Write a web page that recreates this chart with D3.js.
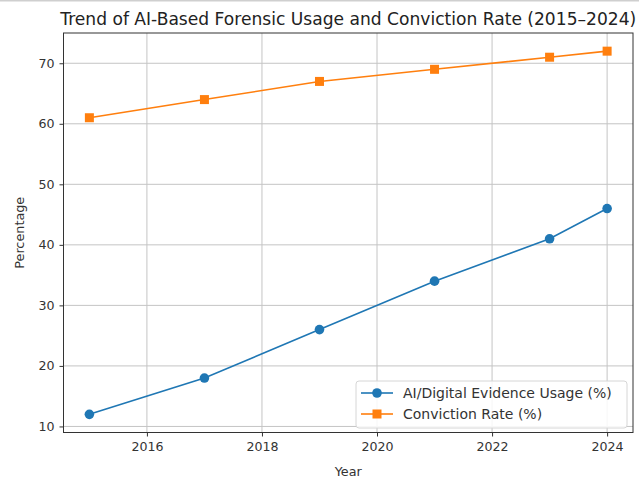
<!DOCTYPE html>
<html>
<head>
<meta charset="utf-8">
<script src="https://cdn.jsdelivr.net/npm/d3@7"></script>
<style>
  html, body { margin: 0; padding: 0; background: #fff; }
  svg { display: block; font-family: "DejaVu Sans", sans-serif; }
</style>
</head>
<body>
<svg id="chart" width="639" height="481"></svg>
<script>
// Survey years and the two tracked percentages
const years = [2015, 2017, 2019, 2021, 2023, 2024];
const aiUsage = [12, 18, 26, 34, 41, 46];
const convictionRate = [61, 64, 67, 69, 71, 72];
const xTicks = [2016, 2018, 2020, 2022, 2024];
const yTicks = [10, 20, 30, 40, 50, 60, 70];
const seriesNames = ["AI/Digital Evidence Usage (%)", "Conviction Rate (%)"];

const W = 639, H = 481;
const margin = { left: 63.5, right: 6, top: 33, bottom: 48.5 };
const svg = d3.select("#chart");

// thin rule along the top edge
svg.append("line").attr("x1", 0).attr("x2", W).attr("y1", 0.8).attr("y2", 0.8)
  .attr("stroke", "#cfcfcf").attr("stroke-width", 1.6);

const x = d3.scaleLinear().domain([2014.55, 2024.45]).range([margin.left, W - margin.right]);
const y = d3.scaleLinear().domain([9, 75]).range([H - margin.bottom, margin.top]);

const g = svg.append("g");

// grid
g.append("g").selectAll("line").data(xTicks).join("line")
  .attr("x1", d => x(d)).attr("x2", d => x(d))
  .attr("y1", margin.top).attr("y2", H - margin.bottom)
  .attr("stroke", "#c4c4c4").attr("stroke-width", 1);
g.append("g").selectAll("line").data(yTicks).join("line")
  .attr("y1", d => y(d)).attr("y2", d => y(d))
  .attr("x1", margin.left).attr("x2", W - margin.right)
  .attr("stroke", "#c4c4c4").attr("stroke-width", 1);

// axes
const xAxis = d3.axisBottom(x).tickValues(xTicks).tickFormat(d3.format("d")).tickSize(4).tickPadding(6);
const yAxis = d3.axisLeft(y).tickValues(yTicks).tickSize(4).tickPadding(5);
const gx = g.append("g").attr("transform", `translate(0,${H - margin.bottom})`).call(xAxis);
const gy = g.append("g").attr("transform", `translate(${margin.left},0)`).call(yAxis);
[gx, gy].forEach(a => {
  a.select(".domain").remove();
  a.selectAll("text").attr("font-size", 12.6).attr("fill", "#333").attr("font-family", "DejaVu Sans");
  a.selectAll("line").attr("stroke", "#333");
});

// frame
g.append("rect").attr("x", margin.left).attr("y", margin.top)
  .attr("width", W - margin.right - margin.left).attr("height", H - margin.bottom - margin.top)
  .attr("fill", "none").attr("stroke", "#333").attr("stroke-width", 1);

const colors = ["#1f77b4", "#ff7f0e"];
const series = [aiUsage, convictionRate];
const line = d3.line().x((d, i) => x(years[i])).y(d => y(d));

series.forEach((vals, si) => {
  g.append("path").datum(vals).attr("d", line)
    .attr("fill", "none").attr("stroke", colors[si]).attr("stroke-width", 1.6);
  if (si === 0) {
    g.append("g").selectAll("circle").data(vals).join("circle")
      .attr("cx", (d, i) => x(years[i])).attr("cy", d => y(d)).attr("r", 4.8)
      .attr("fill", colors[si]);
  } else {
    g.append("g").selectAll("rect").data(vals).join("rect")
      .attr("x", (d, i) => x(years[i]) - 4.5).attr("y", d => y(d) - 4.5)
      .attr("width", 9).attr("height", 9).attr("fill", colors[si]);
  }
});

// title
svg.append("text").attr("x", (margin.left + W - margin.right) / 2).attr("y", 24.5)
  .attr("text-anchor", "middle").attr("font-size", 17.1).attr("fill", "#222")
  .text("Trend of AI-Based Forensic Usage and Conviction Rate (2015\u20132024)");

// axis labels
svg.append("text").attr("x", (margin.left + W - margin.right) / 2).attr("y", 476)
  .attr("text-anchor", "middle").attr("font-size", 12.8).attr("fill", "#333").text("Year");
svg.append("text").attr("transform", `translate(24,${(margin.top + H - margin.bottom) / 2}) rotate(-90)`)
  .attr("text-anchor", "middle").attr("font-size", 12.8).attr("fill", "#333").text("Percentage");

// legend
const lg = svg.append("g").attr("transform", "translate(356,381)");
lg.append("rect").attr("width", 271).attr("height", 47).attr("rx", 3)
  .attr("fill", "#fff").attr("fill-opacity", 0.85).attr("stroke", "#d6d6d6");
seriesNames.forEach((name, i) => {
  const yy = 12 + i * 21;
  lg.append("line").attr("x1", 5).attr("x2", 37).attr("y1", yy).attr("y2", yy)
    .attr("stroke", colors[i]).attr("stroke-width", 1.6);
  if (i === 0) lg.append("circle").attr("cx", 21).attr("cy", yy).attr("r", 4.8).attr("fill", colors[i]);
  else lg.append("rect").attr("x", 16.5).attr("y", yy - 4.5).attr("width", 9).attr("height", 9).attr("fill", colors[i]);
  lg.append("text").attr("x", 47).attr("y", yy + 5).attr("font-size", 14).attr("fill", "#333").text(name);
});
</script>
</body>
</html>
